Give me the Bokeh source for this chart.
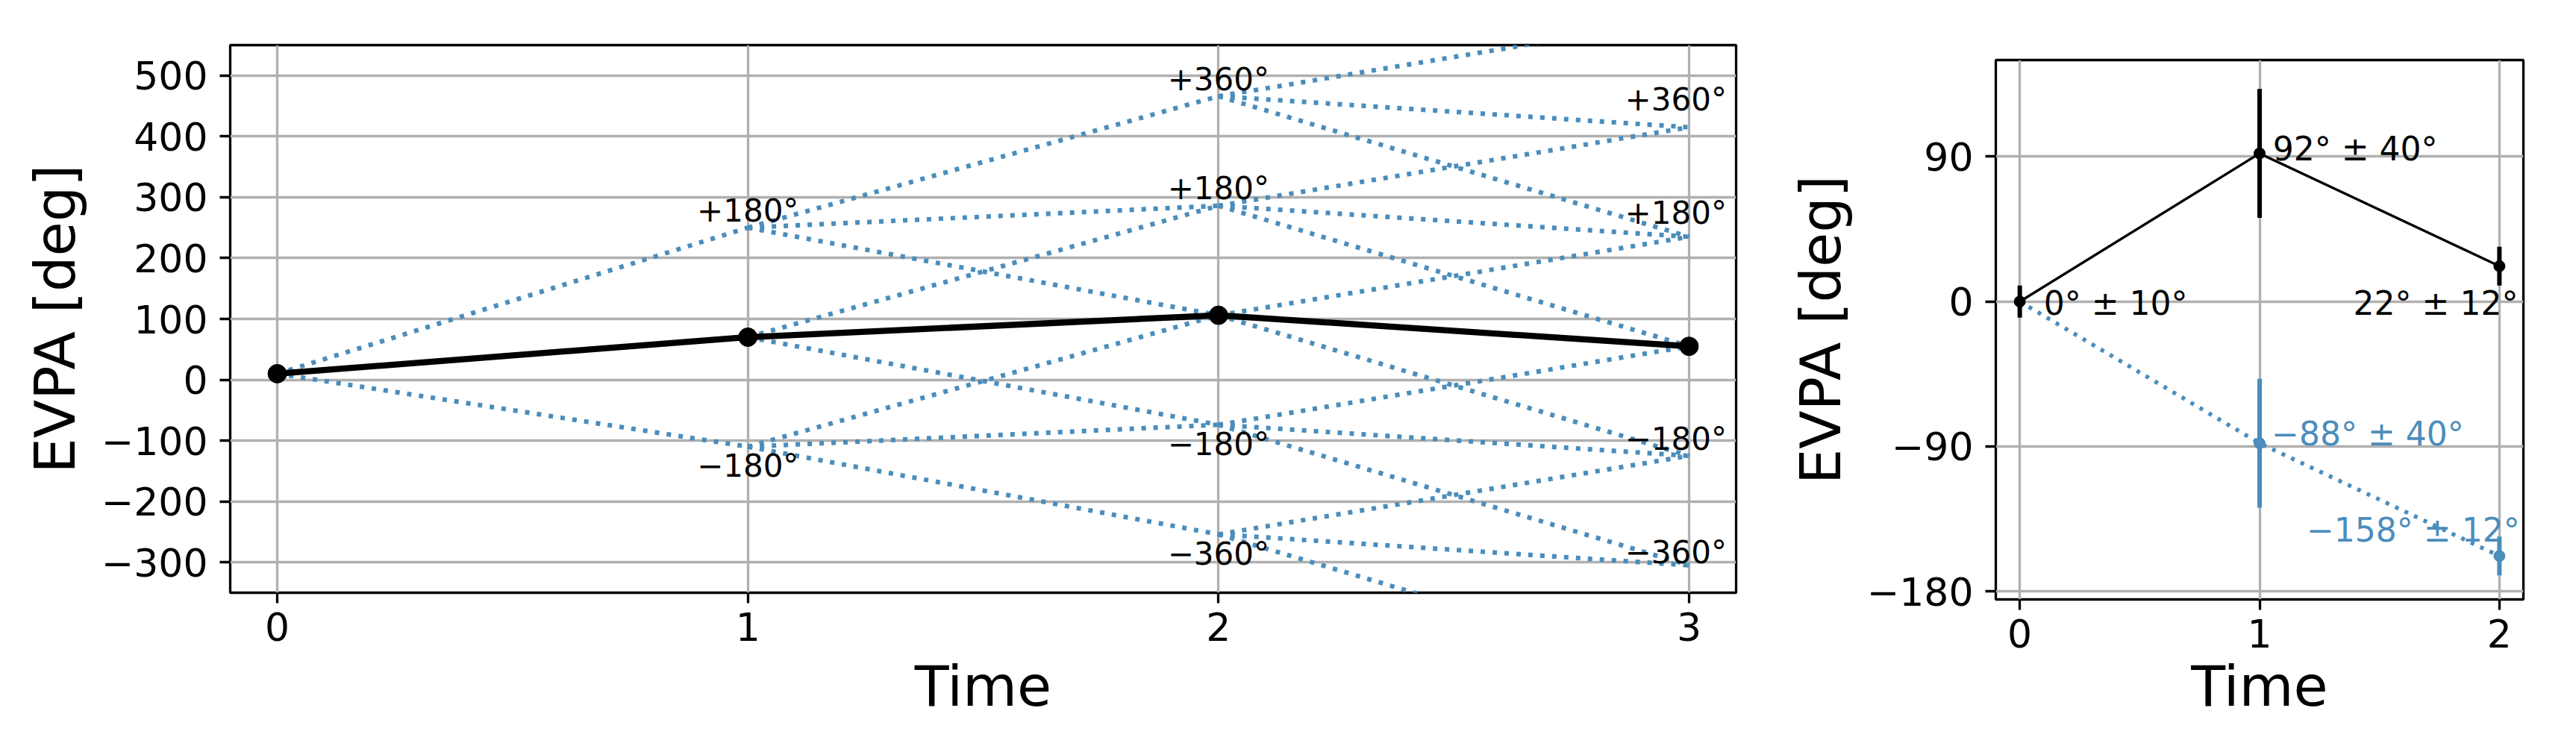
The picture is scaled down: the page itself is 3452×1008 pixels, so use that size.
from bokeh.plotting import figure
from bokeh.layouts import row, column
from bokeh.models import FixedTicker, CustomJSTickFormatter, Range1d, Spacer
from bokeh.core.properties import value
from bokeh.embed import file_html
from bokeh.resources import INLINE

# ---------------- data: left panel ----------------
times = [0, 1, 2, 3]
evpa = [10, 70, 106, 55]            # measured EVPA path (deg)
ambiguity = 180                      # n*180 deg ambiguity branches
left_xticks = [0, 1, 2, 3]
left_yticks = [-300, -200, -100, 0, 100, 200, 300, 400, 500]

# ---------------- data: right panel ----------------
r_times = [0, 1, 2]
r_black = [0, 92, 22]
r_black_err = [10, 40, 12]
r_blue = [0, -88, -158]
r_blue_err = [10, 40, 12]
r_black_labels = ["0° ± 10°", "92° ± 40°", "22° ± 12°"]
r_blue_labels = ["−88° ± 40°", "−158° ± 12°"]
right_xticks = [0, 1, 2]
right_yticks = [-180, -90, 0, 90]

BLUE = "#4b8dbb"
FONT = "DejaVu Sans"
LW = 3.3

minus_fmt = CustomJSTickFormatter(
    code="return (tick < 0 ? '\\u2212' + Math.abs(tick) : '' + tick);")


def style(p, xticks, yticks, xlabel_standoff):
    p.outline_line_color = "black"
    p.outline_line_width = LW
    p.background_fill_color = "white"
    p.border_fill_color = "white"
    for ax in (p.xaxis[0], p.yaxis[0]):
        ax.axis_line_color = None
        ax.major_tick_line_color = "black"
        ax.major_tick_line_width = LW
        ax.major_tick_out = 14
        ax.major_tick_in = 0
        ax.minor_tick_line_color = None
        ax.major_label_text_font = FONT
        ax.major_label_text_font_size = "52px"
        ax.major_label_text_color = "black"
        ax.axis_label_text_font = FONT
        ax.axis_label_text_font_size = "75px"
        ax.axis_label_text_font_style = "normal"
        ax.axis_label_text_color = "black"
    p.xaxis.ticker = FixedTicker(ticks=xticks)
    p.yaxis.ticker = FixedTicker(ticks=yticks)
    p.xgrid.ticker = FixedTicker(ticks=xticks)
    p.ygrid.ticker = FixedTicker(ticks=yticks)
    p.yaxis.formatter = minus_fmt
    p.xaxis.major_label_standoff = 12
    p.yaxis.major_label_standoff = 16
    p.xaxis.axis_label_standoff = xlabel_standoff
    p.yaxis.axis_label_standoff = 15
    p.grid.grid_line_color = "#b0b0b0"
    p.grid.grid_line_width = LW
    p.xaxis.axis_label = "Time"
    p.yaxis.axis_label = "EVPA [deg]"


# ---------------- left figure ----------------
p1 = figure(frame_width=2018, frame_height=734,
            x_range=Range1d(-0.1, 3.1), y_range=Range1d(-350, 550),
            min_border_left=308, min_border_right=20,
            min_border_top=60, min_border_bottom=190,
            output_backend="svg", toolbar_location=None)
style(p1, left_xticks, left_yticks, 14)

x0s, y0s, x1s, y1s = [], [], [], []
for i in range(len(times) - 1):
    for k in range(-i, i + 1):
        for dk in (-1, 0, 1):
            x0s.append(times[i])
            y0s.append(evpa[i] + k * ambiguity)
            x1s.append(times[i + 1])
            y1s.append(evpa[i + 1] + (k + dk) * ambiguity)
p1.segment(x0s, y0s, x1s, y1s, line_color=BLUE, line_width=6.2,
           line_dash="6 10", line_cap="butt")

p1.line(times, evpa, line_color="black", line_width=8.3)
p1.scatter(times, evpa, size=25, fill_color="black", line_color="black")


def ktxt(k):
    s = "+" if k > 0 else "\u2212"
    return f"{s}{abs(k) * ambiguity}°"


lab_x, lab_y, lab_t = [], [], []
for i in range(1, len(times)):
    for k in (-2, -1, 1, 2):
        if abs(k) > i:
            continue
        node = evpa[i] + k * ambiguity
        if i == len(times) - 1:
            lab_x.append(times[i] - 0.028); lab_y.append(node + 33 + 6 * k)
        elif k > 0:
            lab_x.append(times[i]); lab_y.append(node + 28)
        else:
            lab_x.append(times[i]); lab_y.append(node - 32)
        lab_t.append(ktxt(k))

p1.text(lab_x, lab_y, text=lab_t, text_font=value(FONT), text_font_size="42px",
        text_color="black", text_align="center", text_baseline="middle")

# ---------------- right figure ----------------
p2 = figure(frame_width=707, frame_height=723,
            x_range=Range1d(-0.1, 2.1), y_range=Range1d(-185, 150),
            min_border_left=328, min_border_right=30,
            min_border_top=60, min_border_bottom=181,
            output_backend="svg", toolbar_location=None)
style(p2, right_xticks, right_yticks, 5)

# blue (shifted) solution
p2.line(r_times, r_blue, line_color=BLUE, line_width=5.5,
        line_dash="5 9", line_cap="butt")
p2.segment(r_times[1:], [v - e for v, e in zip(r_blue[1:], r_blue_err[1:])],
           r_times[1:], [v + e for v, e in zip(r_blue[1:], r_blue_err[1:])],
           line_color=BLUE, line_width=6)
p2.scatter(r_times[1:], r_blue[1:], size=15, fill_color=BLUE, line_color=BLUE)

# black solution
p2.line(r_times, r_black, line_color="black", line_width=3.4)
p2.segment(r_times, [v - e for v, e in zip(r_black, r_black_err)],
           r_times, [v + e for v, e in zip(r_black, r_black_err)],
           line_color="black", line_width=6)
p2.scatter(r_times, r_black, size=15, fill_color="black", line_color="black")

# annotations (offsets in data units relative to each point)
bl_dx = [0.1, 0.055, 0.078]
bl_dy = [-1, 3, -23]
bl_align = ["left", "left", "right"]
for t, v, s, dx, dy, al in zip(r_times, r_black, r_black_labels, bl_dx, bl_dy, bl_align):
    p2.text([t + dx], [v + dy], text=[s], text_font=value(FONT),
            text_font_size="44px", text_color="black",
            text_align=al, text_baseline="middle")

bu_dx = [0.05, 0.085]
bu_dy = [6, 16]
bu_align = ["left", "right"]
for t, v, s, dx, dy, al in zip(r_times[1:], r_blue[1:], r_blue_labels, bu_dx, bu_dy, bu_align):
    p2.text([t + dx], [v + dy], text=[s], text_font=value(FONT),
            text_font_size="44px", text_color=BLUE,
            text_align=al, text_baseline="middle")

layout = row(p1, column(Spacer(height=20, width=10), p2))
open("out.html", "w").write(file_html(layout, INLINE))
